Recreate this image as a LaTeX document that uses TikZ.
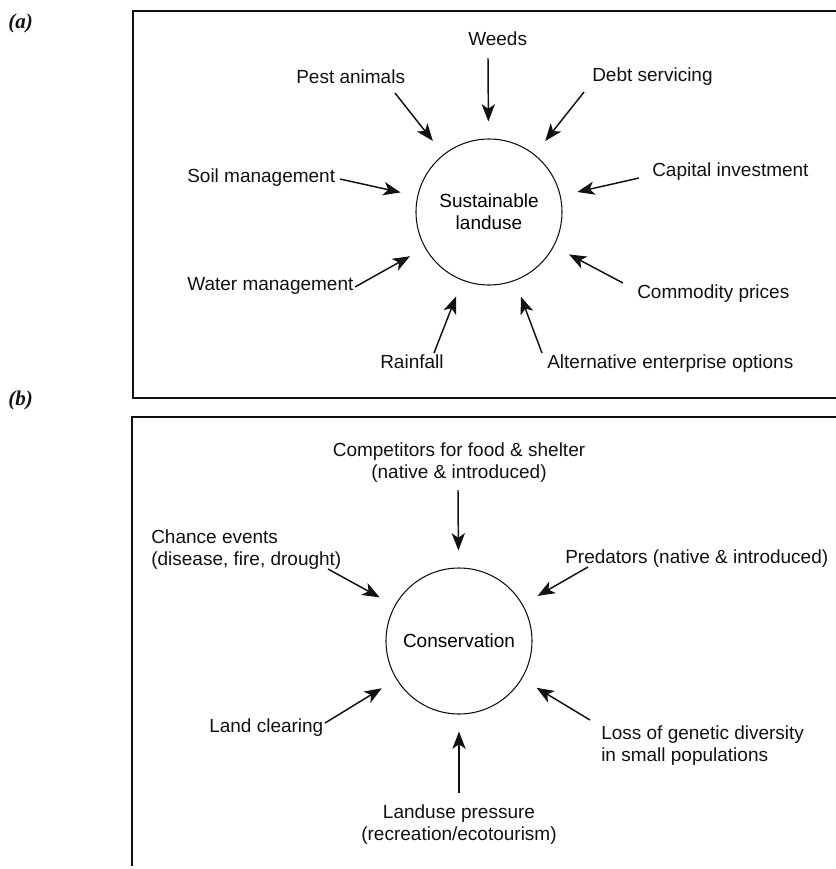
\documentclass[tikz,border=0pt]{standalone}
\usepackage{fontspec}
\setmainfont{Liberation Sans}
\newfontfamily\panelfont{Liberation Serif}
\usetikzlibrary{arrows.meta}
\definecolor{cInk}{HTML}{111111}
\tikzset{
  driver/.style={-{Stealth[length=13pt,width=10pt,inset=3.5pt]},line width=1.1pt,draw=cInk,
                 shorten >=12.75pt},
  frame/.style={line width=1.3pt,draw=cInk},
  hub/.style={circle,draw=cInk,line width=0.8pt,minimum size=109.5pt,inner sep=0pt,
              align=center,font=\fontsize{14.25}{16.5}\selectfont},
  lbl/.style={inner sep=0pt,anchor=base west,align=left,text=cInk,
              font=\fontsize{14.25}{16.5}\selectfont},
  lblc/.style={lbl,anchor=base,align=center},
  panel/.style={inner sep=0pt,anchor=base west,text=cInk,
                font=\panelfont\bfseries\itshape\fontsize{15.75}{18}\selectfont}
}

\begin{document}
\begin{tikzpicture}[x=0.75pt,y=-0.75pt]
  \useasboundingbox (0,0) rectangle (836,869);

  % (a) Sustainable landuse and its drivers.
  \node[panel] (tagA) at (8,28) {(a)};
  \draw[frame] (836,11) -| (133,398) -- (836,398);
  \node[hub] (land) at (489,212) {Sustainable\\landuse};

  \node[lbl] (weeds) at (468,45) {Weeds};
  \node[lbl] (pest) at (296,83) {Pest animals};
  \node[lbl] (debt) at (592,81) {Debt servicing};
  \node[lbl] (soil) at (187,182) {Soil management};
  \node[lbl] (capital) at (652,176) {Capital investment};
  \node[lbl] (water) at (187,290) {Water management};
  \node[lbl] (commodity) at (637,298) {Commodity prices};
  \node[lbl] (rain) at (380,368) {Rainfall};
  \node[lbl] (altern) at (547,368) {Alternative enterprise options};

  \coordinate (weedsT) at (488,58);
  \coordinate (pestT) at (395,93);
  \coordinate (debtT) at (584,92);
  \coordinate (soilT) at (340,179);
  \coordinate (capitalT) at (639,178);
  \coordinate (waterT) at (355,287);
  \coordinate (commodityT) at (623,283);
  \coordinate (rainT) at (434,353);
  \coordinate (alternT) at (542,353);

  \draw[driver] (weedsT) -- (land);
  \draw[driver] (pestT) -- (land);
  \draw[driver] (debtT) -- (land);
  \draw[driver] (soilT) -- (land);
  \draw[driver] (capitalT) -- (land);
  \draw[driver] (waterT) -- (land);
  \draw[driver] (commodityT) -- (land);
  \draw[driver] (rainT) -- (land);
  \draw[driver] (alternT) -- (land);

  % (b) Conservation and the threats acting on it.
  % (two-line labels sit on the baseline of their last line)
  \node[panel] (tagB) at (8,405) {(b)};
  \draw[frame] (836,417) -| (132,866);
  \node[hub] (cons) at (459,641) {Conservation};

  \node[lblc] (compet) at (459,478) {Competitors for food \& shelter\\(native \& introduced)};
  \node[lbl] (chance) at (151,565) {Chance events\\(disease, fire, drought)};
  \node[lbl] (pred) at (565,563) {Predators (native \& introduced)};
  \node[lbl] (clear) at (209,732) {Land clearing};
  \node[lbl] (genetic) at (601,761) {Loss of genetic diversity\\in small populations};
  \node[lblc] (pressure) at (459,840) {Landuse pressure\\(recreation/ecotourism)};

  \coordinate (competT) at (458,490);
  \coordinate (chanceT) at (328,569);
  \coordinate (predT) at (588,567);
  \coordinate (clearT) at (325,723);
  \coordinate (geneticT) at (590,720);
  \coordinate (pressureT) at (459,793);

  \draw[driver] (competT) -- (cons);
  \draw[driver] (chanceT) -- (cons);
  \draw[driver] (predT) -- (cons);
  \draw[driver] (clearT) -- (cons);
  \draw[driver] (geneticT) -- (cons);
  \draw[driver] (pressureT) -- (cons);
\end{tikzpicture}
\end{document}
